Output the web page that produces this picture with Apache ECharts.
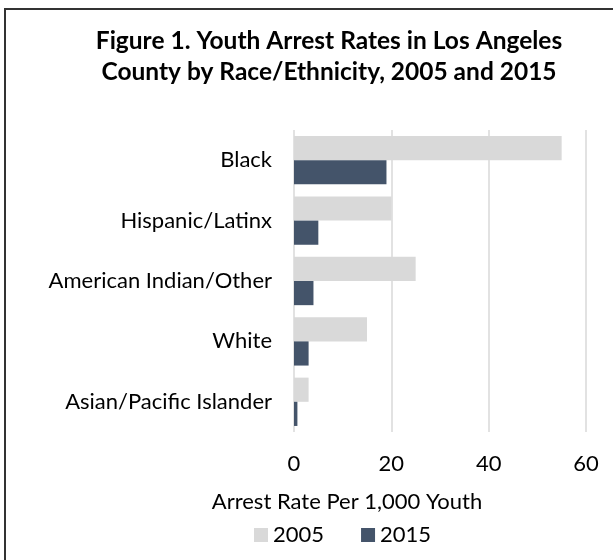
<!DOCTYPE html>
<html>
<head>
<meta charset="utf-8">
<script src="https://cdn.jsdelivr.net/npm/echarts@6/dist/echarts.min.js"></script>
<style>
html,body{margin:0;padding:0;background:#fff;}
#chart{width:613px;height:560px;}
</style>
</head>
<body>
<div id="chart"></div>
<script>
const categories = ["Black", "Hispanic/Latinx", "American Indian/Other", "White", "Asian/Pacific Islander"];
const rates2005 = [55, 20, 25, 15, 3];
const rates2015 = [19, 5, 4, 3, 0.7];
const seriesNames = ["2005", "2015"];
const xTicks = [0, 20, 40, 60];
const titleText = "Figure 1. Youth Arrest Rates in Los Angeles\nCounty by Race/Ethnicity, 2005 and 2015";
const axisTitle = "Arrest Rate Per 1,000 Youth";

const FONT = "Lato";
const chart = echarts.init(document.getElementById('chart'), null, {renderer: 'canvas'});
chart.setOption({
  backgroundColor: '#fff',
  animation: false,
  textStyle: {fontFamily: FONT},
  title: {
    text: titleText,
    left: 324, textAlign: 'center', top: 21,
    textStyle: {fontFamily: FONT, fontWeight: 'bold', fontSize: 24.5, lineHeight: 31, color: '#000'}
  },
  legend: {
    data: seriesNames,
    left: 249, top: 519,
    itemWidth: 14, itemHeight: 14, itemGap: 37,
    icon: 'rect',
    textStyle: {fontFamily: FONT, fontSize: 22, color: '#000', padding: [0,0,0,0]}
  },
  grid: {left: 294, right: 27, top: 130, bottom: 128, containLabel: false},
  xAxis: {
    type: 'value', min: xTicks[0], max: xTicks[xTicks.length-1], interval: 20,
    axisLine: {show: false}, axisTick: {show: false},
    splitLine: {show: true, lineStyle: {color: '#d9d9d9', width: 1.5}},
    axisLabel: {fontFamily: FONT, fontSize: 22, color: '#000', margin: 21}
  },
  yAxis: {
    type: 'category', data: categories, inverse: true,
    axisLine: {show: false}, axisTick: {show: false},
    axisLabel: {fontFamily: FONT, fontSize: 22, color: '#000', margin: 22}
  },
  graphic: [
    {type: 'rect', shape: {x: 5, y: 9, width: 700, height: 700}, style: {fill: 'none', stroke: '#333', lineWidth: 2}, z: 100},
    {type: 'text', style: {text: axisTitle, x: 347, y: 502, textAlign: 'center', textVerticalAlign: 'middle', font: '22px ' + FONT, fill: '#000'}}
  ],
  series: [
    {name: seriesNames[0], type: 'bar', data: rates2005, barGap: '0%', barCategoryGap: '20%', itemStyle: {color: '#d9d9d9'}},
    {name: seriesNames[1], type: 'bar', data: rates2015, barGap: '0%', barCategoryGap: '20%', itemStyle: {color: '#44546a'}}
  ]
});
</script>
</body>
</html>
